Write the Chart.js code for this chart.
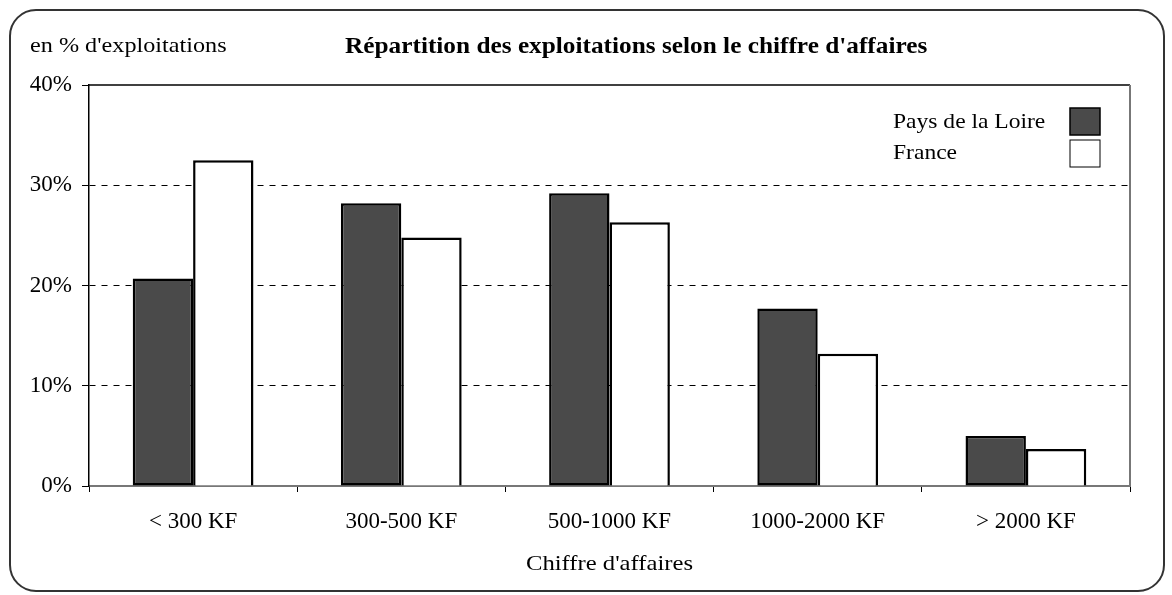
<!DOCTYPE html>
<html>
<head>
<meta charset="utf-8">
<script src="https://cdn.jsdelivr.net/npm/chart.js@4"></script>
<style>
  html, body { margin: 0; padding: 0; background: #fff; }
  #wrap { width: 1172px; height: 595px; position: relative; }
</style>
</head>
<body>
<div id="wrap"><canvas id="chart" width="1172" height="595"></canvas></div>
<script>
const categories = ['< 300 KF', '300-500 KF', '500-1000 KF', '1000-2000 KF', '> 2000 KF'];
const paysDeLaLoire = [20.7, 28.2, 29.2, 17.7, 5.0];
const france = [32.5, 24.8, 26.3, 13.2, 3.7];
const yTicks = [0, 10, 20, 30, 40];
const seriesNames = ['Pays de la Loire', 'France'];

const serif = "'Liberation Serif', 'Times New Roman', serif";
const darkFill = '#4a4a4a';

// text a bit wider than the font, like the scanned original
function wideText(ctx, text, x, y, sx, align) {
    ctx.save();
    ctx.translate(x, y);
    ctx.scale(sx, 1);
    ctx.textAlign = align || 'left';
    ctx.fillText(text, 0, 0);
    ctx.restore();
}

// frame, titles and legend drawn around the chart
const decorations = {
    id: 'decorations',
    beforeDraw(chart) {
        const ctx = chart.ctx;
        ctx.save();
        ctx.fillStyle = '#fff';
        ctx.fillRect(0, 0, chart.width, chart.height);
        ctx.strokeStyle = '#333';
        ctx.lineWidth = 2;
        ctx.beginPath();
        ctx.roundRect(10, 10, 1154, 581, 26);
        ctx.stroke();
        ctx.restore();
    },
    afterDraw(chart) {
        const ctx = chart.ctx;
        const area = chart.chartArea;
        ctx.save();
        // top and right border of plot
        ctx.strokeStyle = '#000';
        ctx.lineWidth = 1.5;
        ctx.beginPath();
        ctx.moveTo(area.left, area.top);
        ctx.lineTo(area.right, area.top);
        ctx.stroke();
        ctx.strokeStyle = '#777';
        ctx.lineWidth = 2;
        ctx.beginPath();
        ctx.moveTo(area.right, area.top);
        ctx.lineTo(area.right, area.bottom);
        ctx.stroke();

        ctx.fillStyle = '#000';
        ctx.textBaseline = 'middle';
        ctx.font = '22px ' + serif;
        wideText(ctx, "en % d'exploitations", 30, 46, 1.1);
        ctx.font = 'bold 23px ' + serif;
        wideText(ctx, "Répartition des exploitations selon le chiffre d'affaires", 345, 47, 1.1);
        ctx.font = '22px ' + serif;
        wideText(ctx, "Chiffre d'affaires", (area.left + area.right) / 2, 564, 1.12, 'center');

        // legend
        ctx.font = '22px ' + serif;
        wideText(ctx, seriesNames[0], 893, 122, 1.07);
        wideText(ctx, seriesNames[1], 893, 153, 1.07);
        ctx.fillStyle = darkFill;
        ctx.fillRect(1070, 108, 30, 27);
        ctx.strokeStyle = '#000';
        ctx.lineWidth = 1.5;
        ctx.strokeRect(1070, 108, 30, 27);
        ctx.fillStyle = '#fff';
        ctx.fillRect(1070, 140, 30, 27);
        ctx.lineWidth = 1;
        ctx.strokeRect(1070, 140, 30, 27);
        ctx.restore();
    }
};

new Chart(document.getElementById('chart'), {
    type: 'bar',
    data: {
        labels: categories,
        datasets: [{
            label: seriesNames[0],
            data: paysDeLaLoire,
            backgroundColor: darkFill,
            borderColor: '#000',
            borderWidth: 2.5,
            borderSkipped: false
        }, {
            label: seriesNames[1],
            data: france,
            backgroundColor: '#fff',
            borderColor: '#000',
            borderWidth: 2.5,
            borderSkipped: 'bottom'
        }]
    },
    options: {
        responsive: false,
        animation: false,
        layout: { padding: { top: 85, right: 42, left: 0, bottom: 0 } },
        plugins: {
            legend: { display: false },
            title: { display: false },
            tooltip: { enabled: false }
        },
        datasets: {
            bar: { categoryPercentage: 0.58, barPercentage: 1.0 }
        },
        scales: {
            x: {
                afterFit(scale) { scale.height = 109; },
                grid: {
                    drawOnChartArea: false,
                    tickLength: 6,
                    color: '#000',
                    offset: true
                },
                border: { display: true, color: '#777', width: 2 },
                ticks: {
                    color: '#000',
                    padding: 16,
                    font: { family: serif, size: 23 }
                }
            },
            y: {
                min: 0,
                max: 40,
                afterFit(scale) { scale.width = 89; },
                afterBuildTicks(scale) {
                    scale.ticks = yTicks.map(v => ({ value: v }));
                },
                grid: {
                    color: ctx => (ctx.tick && (ctx.tick.value === 0 || ctx.tick.value === 40)) ? 'rgba(0,0,0,0)' : '#000',
                    tickColor: '#000',
                    tickLength: 7,
                    lineWidth: 1
                },
                border: { display: true, color: '#000', width: 1.5, dash: [6, 6] },
                ticks: {
                    color: '#000',
                    padding: 10,
                    font: { family: serif, size: 23 },
                    callback: v => v + '%'
                }
            }
        }
    },
    plugins: [decorations]
});
</script>
</body>
</html>
